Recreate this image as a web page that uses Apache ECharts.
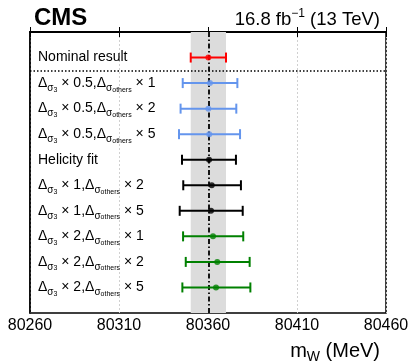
<!DOCTYPE html>
<html>
<head>
<meta charset="utf-8">
<script src="https://cdn.jsdelivr.net/npm/echarts@6/dist/echarts.min.js"></script>
<style>html,body{margin:0;padding:0;background:#fff}#c{width:415px;height:364px}</style>
</head>
<body>
<div id="c"></div>
<script>
// ---- data ----
var xTicks = [80260, 80310, 80360, 80410, 80460];
var plainNames = ['Nominal result', null, null, null, 'Helicity fit', null, null, null, null, null];
var sigma3Scale = [null, '0.5', '0.5', '0.5', null, '1', '1', '2', '2', '2'];
var othersScale = [null, '1', '2', '5', null, '2', '5', '1', '2', '5'];
var centers = [80360.2, 80361.1, 80360.2, 80360.7, 80360.6, 80362.1, 80361.7, 80362.8, 80365.2, 80364.5];
var lows    = [80350.3, 80345.8, 80344.6, 80343.7, 80345.4, 80346.1, 80344.1, 80346.0, 80347.5, 80345.6];
var highs   = [80370.1, 80376.5, 80375.9, 80378.0, 80375.7, 80378.5, 80379.5, 80379.8, 80383.4, 80383.8];
var groups  = ['nominal', 'half', 'half', 'half', 'one', 'one', 'one', 'two', 'two', 'two'];
var nominalBand = [80350.3, 80370.1];
var nominalValue = 80360.2;

var groupColors = { nominal: '#ff0000', half: '#6495ed', one: '#000000', two: '#008000' };
var FONT = 'Liberation Sans, Arial, Helvetica, sans-serif';

function labelText(i) {
  if (plainNames[i]) return '{m|' + plainNames[i] + '}';
  return '{m|Δ}{s|σ}{ss|3}{m| × ' + sigma3Scale[i] + ',Δ}{s|σ}{so|others}{m| × ' + othersScale[i] + '}';
}

var rows = centers.map(function (c, i) { return i + 1; });
var errData = rows.map(function (r, i) { return [r, lows[i], highs[i], i]; });
var dotData = rows.map(function (r, i) {
  return { value: [centers[i], r], itemStyle: { color: groupColors[groups[i]] } };
});
var labelData = rows.map(function (r, i) { return [r, i]; });

var richLabel = {
  m: { fontSize: 14, fontFamily: FONT, color: '#000', lineHeight: 20, verticalAlign: 'middle' },
  s: { fontSize: 10, fontFamily: FONT, color: '#000', lineHeight: 17, verticalAlign: 'bottom' },
  ss: { fontSize: 7, fontFamily: FONT, color: '#000', lineHeight: 13, verticalAlign: 'bottom' },
  so: { fontSize: 7, fontFamily: FONT, color: '#000', lineHeight: 12, verticalAlign: 'bottom' }
};

var chart = echarts.init(document.getElementById('c'), null, { renderer: 'canvas' });
chart.setOption({
  animation: false,
  backgroundColor: '#fff',
  title: [
    { text: 'CMS', left: 29, top: 1, textStyle: { fontFamily: FONT, fontWeight: 'bold', fontSize: 24, color: '#000' } },
    { text: '16.8 fb{sup|−1} (13 TeV)', right: 30, top: 3,
      textStyle: { fontFamily: FONT, fontWeight: 'normal', fontSize: 18.5, color: '#000', lineHeight: 23,
        rich: { sup: { fontSize: 12, fontWeight: 'normal', fontFamily: FONT, color: '#000', lineHeight: 11, verticalAlign: 'top' } } } },
    { text: 'm{sub|W} (MeV)', right: 30, top: 333,
      textStyle: { fontFamily: FONT, fontWeight: 'normal', fontSize: 20, color: '#000', lineHeight: 26,
        rich: { sub: { fontSize: 14, fontWeight: 'normal', fontFamily: FONT, color: '#000', lineHeight: 15, verticalAlign: 'bottom' } } } }
  ],
  grid: { left: 30, right: 29, top: 32, bottom: 51, show: true, borderColor: '#000', borderWidth: 1.5, backgroundColor: 'transparent' },
  xAxis: [
    { type: 'value', min: xTicks[0], max: xTicks[xTicks.length - 1], interval: xTicks[1] - xTicks[0], position: 'bottom',
      axisLine: { show: true, lineStyle: { color: '#000', width: 2 } },
      axisTick: { show: true, inside: true, length: 5, lineStyle: { color: '#000', width: 1 } },
      axisLabel: { show: true, fontFamily: FONT, fontSize: 16, color: '#000', margin: 5, formatter: function (v) { return String(v); } },
      splitLine: { show: true, lineStyle: { color: '#d0d0d0', width: 1, type: [2, 2] } } },
    { type: 'value', min: xTicks[0], max: xTicks[xTicks.length - 1], interval: xTicks[1] - xTicks[0], position: 'top',
      axisLine: { show: true, lineStyle: { color: '#000', width: 1.5 } },
      axisTick: { show: true, inside: true, length: 5, lineStyle: { color: '#000', width: 1 } },
      axisLabel: { show: false }, splitLine: { show: false } }
  ],
  yAxis: { type: 'value', min: 0, max: 11, inverse: true, show: true,
    axisLine: { show: true, lineStyle: { color: '#000', width: 1.5 } },
    axisTick: { show: false }, axisLabel: { show: false }, splitLine: { show: false } },
  series: [
    { type: 'scatter', data: [], z: 1, silent: true,
      markArea: { silent: true, itemStyle: { color: '#dcdcdc' },
        data: [[{ xAxis: nominalBand[0] }, { xAxis: nominalBand[1] }]] } },
    { type: 'scatter', data: [], z: 3, silent: true,
      markLine: { silent: true, symbol: 'none', label: { show: false },
        lineStyle: { color: '#000', width: 1.8, type: [5, 2.5, 1.5, 2.5] },
        data: [{ xAxis: nominalValue }] } },
    { type: 'scatter', data: [], z: 3, silent: true,
      markLine: { silent: true, symbol: 'none', label: { show: false },
        lineStyle: { color: '#000', width: 1.5, type: [1.5, 2] },
        data: [{ yAxis: 1.5 }] } },
    { type: 'custom', z: 5, silent: true, data: errData,
      renderItem: function (params, api) {
        var r = api.value(0), lo = api.value(1), hi = api.value(2), idx = api.value(3);
        var p1 = api.coord([lo, r]), p2 = api.coord([hi, r]);
        var col = groupColors[groups[idx]];
        var st = { stroke: col, lineWidth: 2 };
        return { type: 'group', children: [
          { type: 'line', shape: { x1: p1[0], y1: p1[1], x2: p2[0], y2: p2[1] }, style: st },
          { type: 'line', shape: { x1: p1[0], y1: p1[1] - 5, x2: p1[0], y2: p1[1] + 5 }, style: st },
          { type: 'line', shape: { x1: p2[0], y1: p2[1] - 5, x2: p2[0], y2: p2[1] + 5 }, style: st }
        ] };
      } },
    { type: 'scatter', z: 6, silent: true, symbol: 'circle', symbolSize: 6, data: dotData },
    { type: 'custom', z: 6, silent: true, data: labelData,
      renderItem: function (params, api) {
        var r = api.value(0), idx = api.value(1);
        var p = api.coord([xTicks[0], r]);
        return { type: 'text', x: p[0] + 8, y: p[1],
          style: { text: labelText(idx), rich: richLabel, fontFamily: FONT, fontSize: 14, fill: '#000',
            align: 'left', verticalAlign: 'middle' } };
      } }
  ]
});
</script>
</body>
</html>
